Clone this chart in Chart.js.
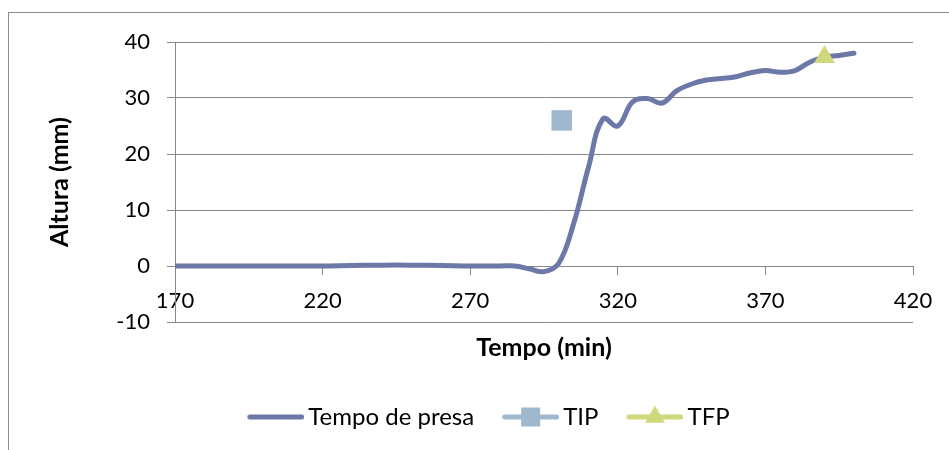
<!DOCTYPE html>
<html>
<head>
<meta charset="utf-8">
<script src="https://cdn.jsdelivr.net/npm/chart.js@4.4.1/dist/chart.umd.min.js"></script>
<style>
  html, body { margin: 0; padding: 0; background: #ffffff; }
  #wrap { position: relative; width: 949px; height: 450px; overflow: hidden; }
  #frame { position: absolute; left: 8px; top: 12px; width: 1200px; height: 700px;
           border-left: 1px solid #8c8c8c; border-top: 1px solid #8c8c8c; }
  #c { position: absolute; left: 0; top: 0; }
</style>
</head>
<body>
<div id="wrap">
  <div id="frame"></div>
  <canvas id="c" width="949" height="450"></canvas>
</div>
<script>
// Setting-time curve: height (mm) against time (min)
const tempo  = [170, 180, 190, 200, 210, 220, 230, 240, 250, 260, 270, 280, 285, 290, 295,
                300, 305, 310, 315, 320, 325, 330, 335, 340, 345, 350, 355, 360, 365, 370,
                375, 380, 385, 390, 395, 400];
const altura = [0, 0, 0, 0, 0, 0, 0.1, 0.15, 0.15, 0.1, 0, 0, 0, -0.5, -1.0,
                0.5, 7.5, 17.5, 26.3, 25.0, 29.3, 29.9, 29.1, 31.3, 32.5, 33.2, 33.5, 33.8, 34.5, 34.9,
                34.6, 34.9, 36.4, 37.3, 37.6, 38.0];

// Initial (TIP) and final (TFP) setting points
const tipTempo  = [301];
const tipAltura = [26];
const tfpTempo  = [390];
const tfpAltura = [37.3];

// Axis ranges and tick steps
const xRange = [170, 420];
const xStep  = 50;
const yRange = [-10, 40];
const yStep  = 10;

const seriesNames = ['Tempo de presa', 'TIP', 'TFP'];

const LINE_COLOR = '#6c78a7';
const TIP_COLOR  = '#9fb8ce';
const TFP_COLOR  = '#cfd87a';
const GRID_COLOR = '#878787';
const FONT = 'Lato, "Open Sans", sans-serif';

const toPoints = (xs, ys) => xs.map((x, i) => ({ x: x, y: ys[i] }));

// Legend swatch: a short line with the series marker on it
function legendSwatch(color, marker) {
  const c = document.createElement('canvas');
  c.width = 65; c.height = 26;
  const g = c.getContext('2d');
  const x0 = 10.5, x1 = 62.5, cy = 13, cx = (x0 + x1) / 2;
  g.strokeStyle = color; g.lineWidth = 5; g.lineCap = 'round';
  g.beginPath(); g.moveTo(x0, cy); g.lineTo(x1, cy); g.stroke();
  g.fillStyle = color;
  if (marker === 'rect') {
    g.fillRect(cx - 9.5, cy - 9.5, 19, 19);
  } else if (marker === 'triangle') {
    const r = 11.5;
    g.beginPath();
    g.moveTo(cx, cy - r);
    g.lineTo(cx + r * Math.sin(Math.PI * 2 / 3), cy - r * Math.cos(Math.PI * 2 / 3));
    g.lineTo(cx + r * Math.sin(Math.PI * 4 / 3), cy - r * Math.cos(Math.PI * 4 / 3));
    g.closePath(); g.fill();
  }
  return c;
}

const swatches = [
  legendSwatch(LINE_COLOR, null),
  legendSwatch(TIP_COLOR, 'rect'),
  legendSwatch(TFP_COLOR, 'triangle')
];

new Chart(document.getElementById('c'), {
  type: 'scatter',
  data: {
    datasets: [
      {
        label: seriesNames[0],
        data: toPoints(tempo, altura),
        showLine: true,
        borderColor: LINE_COLOR,
        borderWidth: 5,
        borderCapStyle: 'round',
        borderJoinStyle: 'round',
        pointRadius: 0,
        tension: 0.4,
        order: 1
      },
      {
        label: seriesNames[1],
        data: toPoints(tipTempo, tipAltura),
        pointStyle: 'rect',
        pointRadius: 14.5,
        backgroundColor: TIP_COLOR,
        borderWidth: 0,
        order: 0
      },
      {
        label: seriesNames[2],
        data: toPoints(tfpTempo, tfpAltura),
        pointStyle: 'triangle',
        pointRadius: 12,
        backgroundColor: TFP_COLOR,
        borderWidth: 0,
        order: 0
      }
    ]
  },
  options: {
    responsive: false,
    animation: false,
    devicePixelRatio: 1,
    layout: { padding: { left: 64, right: 36, top: 42, bottom: 11 } },
    plugins: {
      tooltip: { enabled: false },
      legend: {
        position: 'bottom',
        labels: {
          usePointStyle: true,
          pointStyleWidth: 49,
          padding: 28,
          color: '#000000',
          font: { family: FONT, size: 24 },
          generateLabels: (chart) => chart.data.datasets.map((ds, i) => ({
            text: ds.label,
            pointStyle: swatches[i],
            fillStyle: 'transparent',
            strokeStyle: 'transparent',
            lineWidth: 0,
            hidden: false,
            datasetIndex: i,
            fontColor: '#000000'
          }))
        }
      }
    },
    scales: {
      x: {
        type: 'linear',
        position: { y: 0 },
        min: xRange[0], max: xRange[1],
        ticks: { stepSize: xStep, padding: 14, color: '#000000', font: { family: FONT, size: 22 } },
        grid: { drawOnChartArea: false, drawTicks: true, tickLength: 8, color: GRID_COLOR },
        border: { color: GRID_COLOR, width: 1 }
      },
      xTitle: {
        type: 'linear',
        axis: 'x',
        position: 'bottom',
        min: xRange[0], max: xRange[1],
        ticks: { display: false },
        grid: { display: false },
        border: { display: false },
        title: {
          display: true, text: 'Tempo (min)', color: '#000000',
          font: { family: FONT, size: 25, weight: 'bold' },
          padding: { top: 3, bottom: 14 }
        }
      },
      y: {
        type: 'linear',
        position: 'left',
        min: yRange[0], max: yRange[1],
        ticks: { stepSize: yStep, padding: 17, color: '#000000', font: { family: FONT, size: 22 } },
        grid: { color: GRID_COLOR, tickLength: 8, lineWidth: 1 },
        border: { color: GRID_COLOR, width: 1 },
        title: {
          display: true, text: 'Altura (mm)', color: '#000000',
          font: { family: FONT, size: 25, weight: 'bold' },
          padding: { top: -19, bottom: 0 }
        },
        afterFit: (scale) => { scale.width = 111; }
      }
    }
  }
});
</script>
</body>
</html>
